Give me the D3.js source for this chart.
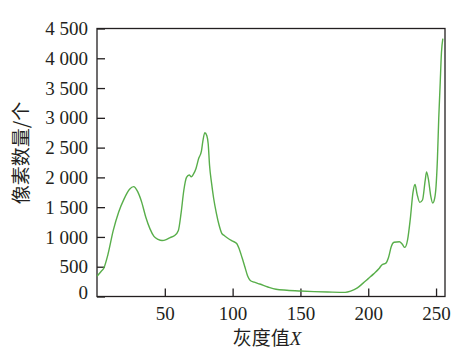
<!DOCTYPE html>
<html>
<head>
<meta charset="utf-8">
<script src="https://cdn.jsdelivr.net/npm/d3@7"></script>
<style>
  html, body { margin: 0; padding: 0; background: #fff; }
  svg { display: block; }
</style>
</head>
<body>
<svg id="chart" width="464" height="362"></svg>
<script>
// Gray level (x) and pixel count (y)
const grayLevels = [0, 3, 5, 8, 12, 16, 20, 24, 27, 30, 33, 36, 39, 42, 45, 48, 51, 54, 57, 60,
  62, 64, 66, 68, 69.5, 71, 73, 75, 77, 78, 79.5, 81, 82, 83, 84.5, 86, 88, 90, 92, 94,
  97, 100, 103, 105, 107, 109, 111, 113, 116, 120, 126, 132, 140, 150, 160, 170, 183,
  187, 192, 196, 200, 204, 208, 210, 213, 215, 217, 219, 223, 225, 227, 229, 231, 233,
  234.5, 236, 238, 240, 242, 243, 244.5, 246, 247.6, 249, 250, 251, 252, 253, 254, 255];
const pixelCounts = [340, 420, 475, 700, 1110, 1420, 1640, 1800, 1845, 1760, 1580, 1330, 1140, 1010, 960, 940, 955, 990, 1020, 1110,
  1400, 1780, 2000, 2040, 2010, 2050, 2150, 2320, 2440, 2600, 2750, 2700, 2560, 2200, 1900, 1650, 1400, 1200, 1060, 1020,
  970, 930, 890, 790, 650, 500, 350, 270, 240, 210, 160, 121, 105, 92, 82, 76, 70,
  90, 145, 220, 300, 380, 470, 530, 560, 660, 840, 910, 920, 880, 825, 950, 1300, 1750,
  1880, 1720, 1580, 1620, 1950, 2090, 1950, 1700, 1570, 1650, 1850, 2300, 3000, 3550, 4100, 4330];

const xTicks = [50, 100, 150, 200, 250];
const yTicks = [0, 500, 1000, 1500, 2000, 2500, 3000, 3500, 4000, 4500];
const xTitle = "灰度值";
const xTitleVar = "X";
const yTitle = "像素数量/个";

const svg = d3.select("#chart");
const mLeft = 97, mRight = 445, mTop = 28.5, mBottom = 296.5;
const ink = "#231f20";
const numFont = "'Liberation Serif', 'Times New Roman', serif";
const cjkFont = "'Noto Sans CJK SC', sans-serif";

const x = d3.scaleLinear().domain([0, 256.6]).range([mLeft, mRight]);
const y = d3.scaleLinear().domain([0, 4500]).range([mBottom, mTop]);

const fmt = v => {
  const s = String(v);
  return s.length > 3 ? s.slice(0, s.length - 3) + " " + s.slice(-3) : s;
};

// frame
svg.append("rect")
  .attr("x", mLeft).attr("y", mTop)
  .attr("width", mRight - mLeft).attr("height", mBottom - mTop)
  .attr("fill", "none").attr("stroke", ink).attr("stroke-width", 1.3);

// y axis
const yAxis = svg.append("g")
  .attr("transform", `translate(${mLeft},0)`)
  .call(d3.axisLeft(y).tickValues(yTicks).tickFormat(fmt).tickSizeInner(-8).tickSizeOuter(0).tickPadding(9));
yAxis.select(".domain").remove();
yAxis.selectAll("line").attr("stroke", ink).attr("stroke-width", 1.3);
yAxis.selectAll("text").attr("fill", ink).style("font-family", numFont).style("font-size", "19px");
yAxis.selectAll(".tick").filter(d => d === 0).select("text").attr("y", -4.5);

// x axis
const xAxis = svg.append("g")
  .attr("transform", `translate(0,${mBottom})`)
  .call(d3.axisBottom(x).tickValues(xTicks).tickFormat(d3.format("d")).tickSizeInner(-8).tickSizeOuter(0).tickPadding(10));
xAxis.select(".domain").remove();
xAxis.selectAll("line").attr("stroke", ink).attr("stroke-width", 1.3);
xAxis.selectAll("text").attr("fill", ink).style("font-family", numFont).style("font-size", "19px");

// line
const data = grayLevels.map((g, i) => ({ g, v: pixelCounts[i] }));
svg.append("path")
  .datum(data)
  .attr("fill", "none")
  .attr("stroke", "#58ae4a")
  .attr("stroke-width", 1.4)
  .attr("d", d3.line().x(d => x(d.g)).y(d => y(d.v)).curve(d3.curveMonotoneX));

// x title
const xt = svg.append("text")
  .attr("x", 267).attr("y", 345)
  .attr("text-anchor", "middle")
  .attr("fill", ink)
  .style("font-size", "19px");
xt.append("tspan").style("font-family", cjkFont).text(xTitle);
xt.append("tspan").style("font-family", numFont).style("font-style", "italic").text(xTitleVar);

// y title
svg.append("text")
  .attr("transform", "translate(28,153) rotate(-90)")
  .attr("text-anchor", "middle")
  .attr("fill", ink)
  .style("font-family", cjkFont)
  .style("font-size", "19px")
  .text(yTitle);
</script>
</body>
</html>
